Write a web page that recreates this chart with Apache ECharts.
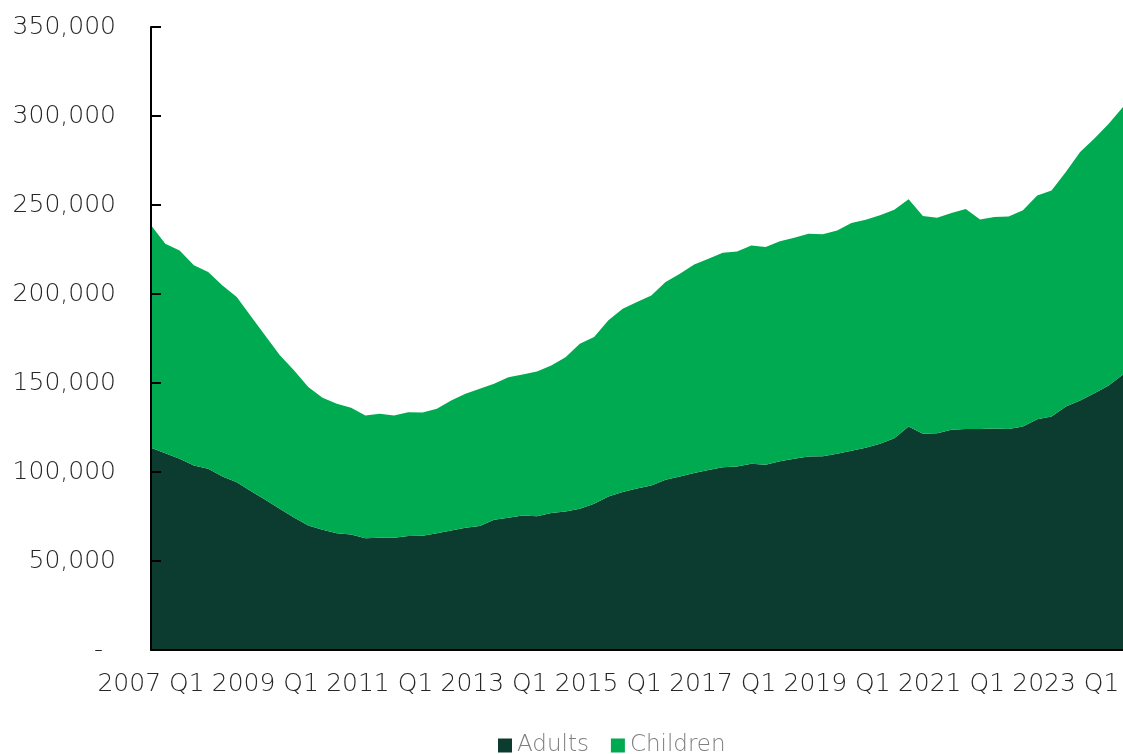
<!DOCTYPE html>
<html>
<head>
<meta charset="utf-8">
<script src="https://cdn.jsdelivr.net/npm/echarts@6/dist/echarts.min.js"></script>
<style>
  html, body { margin: 0; padding: 0; background: #ffffff; }
  #chart { width: 1123px; height: 754px; }
</style>
</head>
<body>
<div id="chart"></div>
<script>
// Quarterly categories, 2007 Q1 – 2024 Q1
const quarters = [
  '2007 Q1','2007 Q2','2007 Q3','2007 Q4','2008 Q1','2008 Q2','2008 Q3','2008 Q4',
  '2009 Q1','2009 Q2','2009 Q3','2009 Q4','2010 Q1','2010 Q2','2010 Q3','2010 Q4',
  '2011 Q1','2011 Q2','2011 Q3','2011 Q4','2012 Q1','2012 Q2','2012 Q3','2012 Q4',
  '2013 Q1','2013 Q2','2013 Q3','2013 Q4','2014 Q1','2014 Q2','2014 Q3','2014 Q4',
  '2015 Q1','2015 Q2','2015 Q3','2015 Q4','2016 Q1','2016 Q2','2016 Q3','2016 Q4',
  '2017 Q1','2017 Q2','2017 Q3','2017 Q4','2018 Q1','2018 Q2','2018 Q3','2018 Q4',
  '2019 Q1','2019 Q2','2019 Q3','2019 Q4','2020 Q1','2020 Q2','2020 Q3','2020 Q4',
  '2021 Q1','2021 Q2','2021 Q3','2021 Q4','2022 Q1','2022 Q2','2022 Q3','2022 Q4',
  '2023 Q1','2023 Q2','2023 Q3','2023 Q4','2024 Q1'
];

const adults = [
  113600,110600,107400,103700,101800,97500,94300,89200,
  84400,79300,74500,70000,67500,65600,64900,62800,
  63000,63000,64000,64200,65600,67200,68700,69600,
  73200,74300,75600,75200,76900,77800,79300,82100,
  86300,88700,90800,92400,95600,97500,99400,101100,
  102700,103100,104600,104100,106100,107400,108700,108900,
  110300,111900,113600,115900,118900,125600,121500,121800,
  123700,124100,124100,124500,124100,125600,129700,131200,
  136800,140200,144300,148600,154800
];

const children = [
  125000,117700,117100,112400,110500,107300,104000,98200,
  92200,86400,82600,77700,74200,72700,71200,69000,
  69700,68800,69600,69200,69900,73000,75300,77200,
  76400,79000,79200,81300,83000,86700,92800,93700,
  98900,103000,104700,106800,111100,113900,117200,118700,
  120500,120800,122700,122300,123600,124200,125200,124600,
  125400,128000,128100,128300,128500,127600,122300,121100,
  121800,123600,117700,118700,119500,121400,125700,127000,
  131700,139600,143000,147100,150200
];

const yTicks = { min: 0, max: 350000, step: 50000 };

const FONT = '"DejaVu Sans", sans-serif';
const WEIGHT = 200;
const DARK = '#0b3c2f';
const BRIGHT = '#00aa50';

const chart = echarts.init(document.getElementById('chart'), null, { renderer: 'canvas' });

chart.setOption({
  animation: false,
  backgroundColor: '#ffffff',
  textStyle: { fontFamily: FONT },
  grid: { left: 151, right: 0, top: 27, bottom: 104, containLabel: false },
  legend: {
    data: ['Adults', 'Children'],
    top: 729,
    left: 493,
    icon: 'rect',
    itemWidth: 14,
    itemHeight: 14,
    itemGap: 22,
    textStyle: { color: '#7f7f7f', fontSize: 23, fontFamily: FONT, fontWeight: WEIGHT }
  },
  xAxis: {
    type: 'category',
    data: quarters,
    boundaryGap: false,
    z: 10,
    axisLine: { show: true, lineStyle: { color: '#000', width: 2 } },
    axisTick: { show: false },
    axisLabel: {
      interval: 7,
      margin: 22,
      color: '#262626',
      fontSize: 25,
      fontFamily: FONT,
      fontWeight: WEIGHT
    },
    splitLine: { show: false }
  },
  yAxis: {
    type: 'value',
    min: yTicks.min,
    max: yTicks.max,
    interval: yTicks.step,
    z: 10,
    axisLine: { show: true, lineStyle: { color: '#000', width: 2 } },
    axisTick: { show: true, inside: true, length: 10, lineStyle: { color: '#000', width: 2 } },
    splitLine: { show: false },
    axisLabel: {
      margin: 35,
      color: '#262626',
      fontSize: 25,
      fontFamily: FONT,
      fontWeight: WEIGHT,
      formatter: function (v) {
        return v === 0 ? '{z|-}' : v.toLocaleString('en-US');
      },
      rich: { z: { fontSize: 25, fontFamily: FONT, fontWeight: WEIGHT, color: '#262626', padding: [0, 13, 0, 0] } }
    }
  },
  series: [
    {
      name: 'Adults',
      type: 'line',
      stack: 'total',
      data: adults,
      symbol: 'none',
      lineStyle: { width: 0 },
      areaStyle: { color: DARK, opacity: 1 },
      itemStyle: { color: DARK }
    },
    {
      name: 'Children',
      type: 'line',
      stack: 'total',
      data: children,
      symbol: 'none',
      lineStyle: { width: 0 },
      areaStyle: { color: BRIGHT, opacity: 1 },
      itemStyle: { color: BRIGHT }
    }
  ]
});
</script>
</body>
</html>
